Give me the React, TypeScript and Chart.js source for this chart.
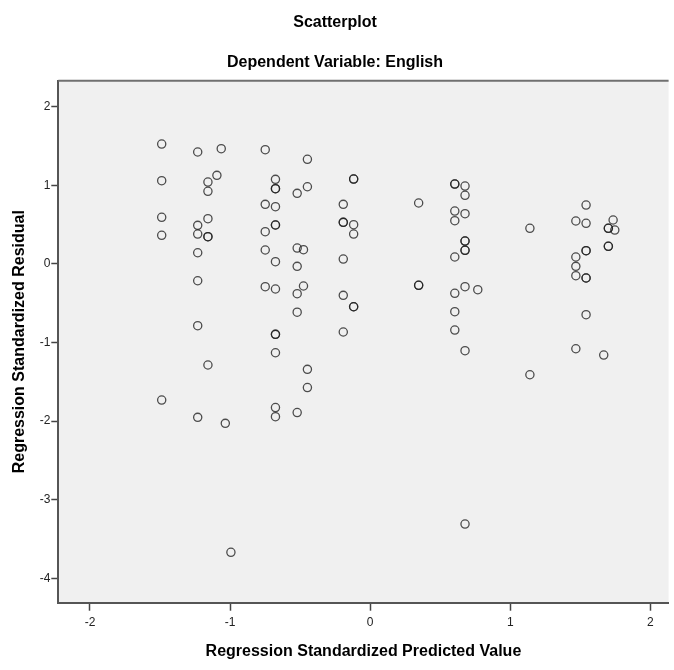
import React, { useEffect, useRef } from "react";
import { Chart, registerables } from "chart.js";

Chart.register(...registerables);

// Regression standardized predicted values (x) and residuals (y)
const predicted: number[] = [
  -1.488, -1.488, -1.488, -1.488, -1.488,
  -1.231, -1.231, -1.231, -1.231, -1.231, -1.231, -1.231,
  -1.158, -1.158, -1.158, -1.158, -1.158, -1.158,
  -1.094, -1.063, -1.034, -0.994,
  -0.749, -0.749, -0.749, -0.749, -0.749,
  -0.676, -0.676, -0.676, -0.676, -0.676, -0.676, -0.676, -0.676, -0.676, -0.676, -0.676, -0.676, -0.676,
  -0.521, -0.521, -0.521, -0.521, -0.521, -0.521,
  -0.476, -0.476,
  -0.448, -0.448, -0.448, -0.448,
  -0.192, -0.192, -0.192, -0.192, -0.192, -0.192,
  -0.118, -0.118, -0.118, -0.118, -0.118, -0.118,
  0.346, 0.346, 0.346,
  0.604, 0.604, 0.604, 0.604, 0.604, 0.604, 0.604, 0.604,
  0.677, 0.677, 0.677, 0.677, 0.677, 0.677, 0.677, 0.677, 0.677, 0.677,
  0.768,
  1.14, 1.14,
  1.468, 1.468, 1.468, 1.468, 1.468,
  1.541, 1.541, 1.541, 1.541, 1.541, 1.541, 1.541,
  1.667,
  1.70, 1.70, 1.70, 1.70,
  1.734, 1.746,
];

const residual: number[] = [
  1.525, 1.059, 0.593, 0.364, -1.732,
  1.424, 0.491, 0.38, 0.142, -0.214, -0.786, -1.952,
  1.042, 0.924, 0.575, 0.346, 0.346, -1.286,
  1.127, 1.466, -2.028, -3.669,
  1.453, 0.758, 0.41, 0.177, -0.29,
  1.076, 0.957, 0.957, 0.728, 0.495, 0.495, 0.028, -0.319, -0.896, -0.896, -1.13, -1.827, -1.944,
  0.898, 0.202, -0.031, -0.379, -0.614, -1.891,
  0.181, -0.281,
  1.331, 0.982, -1.341, -1.573,
  0.758, 0.529, 0.529, 0.062, -0.4, -0.866,
  1.08, 1.08, 0.499, 0.38, -0.545, -0.545,
  0.775, -0.272, -0.272,
  1.016, 1.016, 0.673, 0.55, 0.088, -0.374, -0.608, -0.841,
  0.991, 0.873, 0.639, 0.291, 0.291, 0.173, 0.173, -0.29, -1.104, -3.309,
  -0.328,
  0.453, -1.41,
  0.546, 0.088, -0.031, -0.15, -1.079,
  0.749, 0.517, 0.168, 0.168, -0.179, -0.179, -0.646,
  -1.159,
  0.453, 0.453, 0.224, 0.224,
  0.559, 0.431,
];

const xTicks: number[] = [-2, -1, 0, 1, 2];
const yTicks: number[] = [2, 1, 0, -1, -2, -3, -4];

const chartTitle = "Scatterplot";
const chartSubtitle = "Dependent Variable: English";
const xTitle = "Regression Standardized Predicted Value";
const yTitle = "Regression Standardized Residual";

const TITLE_FONT = "'Liberation Sans Narrow', 'Liberation Sans', Arial, sans-serif";
const TICK_FONT = "'Liberation Sans', Arial, sans-serif";

const plotBackground = {
  id: "plotBackground",
  beforeDraw(chart: any) {
    const { ctx, chartArea } = chart;
    if (!chartArea) return;
    const { left, top, right, bottom } = chartArea;
    ctx.save();
    ctx.fillStyle = "#F0F0F0";
    ctx.fillRect(left, top, right - left, bottom - top);
    ctx.restore();
  },
  afterDraw(chart: any) {
    const { ctx, chartArea } = chart;
    if (!chartArea) return;
    const { left, top, right } = chartArea;
    ctx.save();
    ctx.strokeStyle = "#707070";
    ctx.lineWidth = 2;
    ctx.beginPath();
    ctx.moveTo(left, top);
    ctx.lineTo(right, top);
    ctx.stroke();
    ctx.restore();
  },
};

export default function App() {
  const canvasRef = useRef<HTMLCanvasElement | null>(null);

  useEffect(() => {
    if (!canvasRef.current) return;
    const points = predicted.map((x, i) => ({ x, y: residual[i] }));
    const chart = new Chart(canvasRef.current, {
      type: "scatter",
      data: {
        datasets: [
          {
            data: points,
            pointRadius: 4.1,
            pointBorderWidth: 1.3,
            pointBorderColor: "rgba(30,30,30,0.78)",
            pointBackgroundColor: "rgba(0,0,0,0)",
            pointHoverRadius: 4.1,
          },
        ],
      },
      options: {
        responsive: false,
        animation: false,
        events: [],
        layout: { padding: { left: 0, right: 4, top: 0, bottom: 0 } },
        plugins: {
          legend: { display: false },
          tooltip: { enabled: false },
          title: {
            display: true,
            text: chartTitle,
            color: "#000",
            font: { family: TITLE_FONT, size: 16, weight: "bold", lineHeight: 1.2 },
            padding: { top: 13.4, bottom: 0 },
          },
          subtitle: {
            display: true,
            text: chartSubtitle,
            color: "#000",
            font: { family: TITLE_FONT, size: 16, weight: "bold", lineHeight: 1.2 },
            padding: { top: 20.8, bottom: 8.1 },
          },
        },
        scales: {
          x: {
            type: "linear",
            min: -2.226,
            max: 2.13,
            afterBuildTicks: (s: any) => {
              s.ticks = xTicks.map((v) => ({ value: v }));
            },
            afterFit: (s: any) => {
              s.height = 67.3;
            },
            grid: {
              display: true,
              drawOnChartArea: false,
              drawTicks: true,
              tickLength: 8,
              tickWidth: 1.5,
              tickColor: "#444",
            },
            border: { display: true, color: "#555", width: 2 },
            ticks: {
              color: "#222",
              font: { family: TICK_FONT, size: 12 },
              padding: 5,
              maxRotation: 0,
              autoSkip: false,
            },
            title: {
              display: true,
              text: xTitle,
              color: "#000",
              font: { family: TITLE_FONT, size: 16, weight: "bold", lineHeight: 1.2 },
              padding: { top: 0, bottom: 8.4 },
            },
          },
          y: {
            type: "linear",
            min: -4.31,
            max: 2.331,
            afterBuildTicks: (s: any) => {
              s.ticks = yTicks.map((v) => ({ value: v }));
            },
            afterFit: (s: any) => {
              s.width = 58.3;
            },
            grid: {
              display: true,
              drawOnChartArea: false,
              drawTicks: true,
              tickLength: 7,
              tickWidth: 1.5,
              tickColor: "#444",
            },
            border: { display: true, color: "#555", width: 2 },
            ticks: {
              color: "#222",
              font: { family: TICK_FONT, size: 12 },
              padding: 1,
              autoSkip: false,
            },
            title: {
              display: true,
              text: yTitle,
              color: "#000",
              font: { family: TITLE_FONT, size: 16, weight: "bold", lineHeight: 1.2 },
              padding: { top: 9.5, bottom: 0 },
            },
          },
        },
      },
      plugins: [plotBackground],
    });
    return () => chart.destroy();
  }, []);

  return (
    <div style={{ position: "absolute", left: 0, top: 0, width: 674, height: 670, background: "#fff" }}>
      <canvas ref={canvasRef} width={674} height={670} style={{ display: "block", width: 674, height: 670 }} />
    </div>
  );
}
